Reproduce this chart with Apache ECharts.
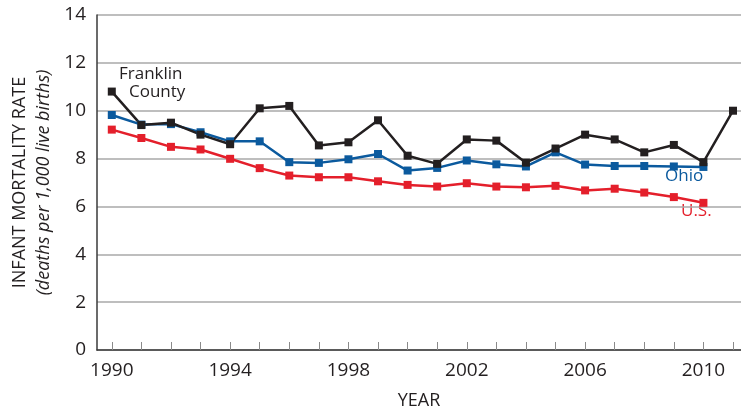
<!DOCTYPE html>
<html>
<head>
<meta charset="utf-8">
<script src="https://cdn.jsdelivr.net/npm/echarts@6/dist/echarts.min.js"></script>
<style>
  html, body { margin: 0; padding: 0; background: #fff; }
  #main { width: 741px; height: 408px; }
</style>
</head>
<body>
<div id="main"></div>
<script>
// 年份
let years = [1990, 1991, 1992, 1993, 1994, 1995, 1996, 1997, 1998, 1999, 2000,
    2001, 2002, 2003, 2004, 2005, 2006, 2007, 2008, 2009, 2010, 2011];
let yearLabels = [1990, 1994, 1998, 2002, 2006, 2010];
let yTicks = [0, 2, 4, 6, 8, 10, 12, 14];

// 各序列数值 (每千活产婴儿死亡数)
let franklin = [10.8, 9.4, 9.5, 9.0, 8.6, 10.1, 10.2, 8.55, 8.68, 9.6, 8.12,
    7.78, 8.8, 8.75, 7.83, 8.42, 9.0, 8.8, 8.26, 8.57, 7.85, 10.0];
let ohio = [9.82, 9.42, 9.44, 9.1, 8.72, 8.72, 7.85, 7.82, 7.97, 8.19, 7.5,
    7.61, 7.92, 7.76, 7.67, 8.26, 7.75, 7.69, 7.69, 7.67, 7.65];
let us = [9.21, 8.86, 8.49, 8.38, 7.99, 7.6, 7.29, 7.22, 7.22, 7.05, 6.9,
    6.83, 6.97, 6.83, 6.8, 6.86, 6.67, 6.74, 6.58, 6.39, 6.15];

function pairs(vals) {
    let out = [];
    for (let i = 0; i < vals.length; i++) {
        out.push([years[i], vals[i]]);
    }
    return out;
}

let font = 'Open Sans';
let black = '#231f20';
let blue = '#0b5a9e';
let red = '#e41f2b';

let myChart = echarts.init(document.getElementById('main'));
let option = {
    animation: false,
    backgroundColor: '#fff',
    grid: { left: 97, right: 0, top: 15, bottom: 58, outerBoundsMode: 'none', containLabel: false },
    xAxis: {
        type: 'value',
        min: 1989.5,
        max: 2011.27,
        name: 'YEAR',
        nameLocation: 'middle',
        nameGap: 42,
        nameTextStyle: { fontFamily: font, fontSize: 18, color: black },
        axisLine: { lineStyle: { color: '#3a3a3a', width: 1.5 } },
        axisTick: {
            show: true,
            inside: true,
            length: 8,
            customValues: years,
            lineStyle: { color: '#8a8a8a', width: 1 }
        },
        axisLabel: {
            customValues: yearLabels,
            formatter: function (v) { return String(v); },
            fontFamily: font,
            fontSize: 19,
            color: black,
            margin: 11
        },
        splitLine: { show: false }
    },
    yAxis: {
        type: 'value',
        min: 0,
        max: 14,
        interval: 2,
        name: '{a|INFANT MORTALITY RATE}\n{b|(deaths per 1,000 live births)}',
        nameLocation: 'middle',
        nameRotate: 90,
        nameGap: 41,
        nameTextStyle: {
            rich: {
                a: { fontFamily: font, fontSize: 18, color: black, lineHeight: 24 },
                b: { fontFamily: font, fontSize: 18, fontStyle: 'italic', color: black, lineHeight: 24 }
            }
        },
        axisLine: { show: true, lineStyle: { color: '#3a3a3a', width: 1.5 } },
        axisTick: { show: false },
        axisLabel: {
            customValues: yTicks,
            fontFamily: font,
            fontSize: 19,
            color: black,
            margin: 11
        },
        splitLine: { show: true, lineStyle: { color: '#a8a8a8', width: 1.5 } }
    },
    graphic: [
        { type: 'text', left: 119, top: 66, style: { text: 'Franklin', font: '17px "Open Sans"', fill: black } },
        { type: 'text', left: 129, top: 84, style: { text: 'County', font: '17px "Open Sans"', fill: black } },
        { type: 'text', left: 665, top: 168, style: { text: 'Ohio', font: '17px "Open Sans"', fill: blue } },
        { type: 'text', left: 681, top: 203, style: { text: 'U.S.', font: '17px "Open Sans"', fill: red } }
    ],
    series: [
        {
            name: 'U.S.',
            type: 'line',
            data: pairs(us),
            symbol: 'rect',
            symbolSize: 8,
            lineStyle: { color: red, width: 2.5 },
            itemStyle: { color: red }
        },
        {
            name: 'Ohio',
            type: 'line',
            data: pairs(ohio),
            symbol: 'rect',
            symbolSize: 8,
            lineStyle: { color: blue, width: 2.5 },
            itemStyle: { color: blue }
        },
        {
            name: 'Franklin County',
            type: 'line',
            data: pairs(franklin),
            symbol: 'rect',
            symbolSize: 8,
            lineStyle: { color: black, width: 2.5 },
            itemStyle: { color: black }
        }
    ]
};
myChart.setOption(option);
</script>
</body>
</html>
